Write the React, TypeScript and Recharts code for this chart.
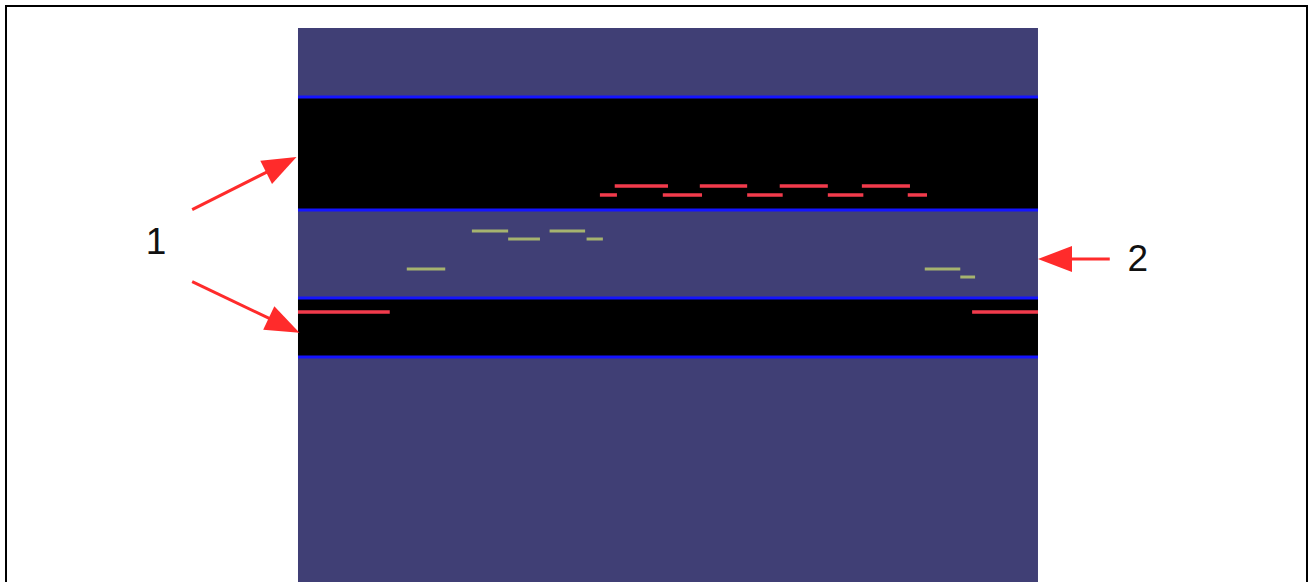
import { ComposedChart, XAxis, YAxis, ReferenceArea, ReferenceLine, ReferenceDot } from "recharts"

// time runs 0..100 across the panel, channel height 0..100 from bottom to top of the panel
const X_DOMAIN = [-40.27, 137.03]
const Y_DOMAIN = [0, 105.05]
const PANEL_X = [0, 100]
const PANEL_Y = [0, 100]

const BLACK_BANDS = [
  { lo: 67.33, hi: 87.36 },
  { lo: 40.79, hi: 51.08 },
]
const BLUE_EDGES = [87.55, 67.15, 51.26, 40.61]

const RED_TRACES = [
  { y: 71.48, from: 42.8, to: 50.0 },
  { y: 71.48, from: 54.3, to: 60.7 },
  { y: 71.48, from: 65.1, to: 71.6 },
  { y: 71.48, from: 76.2, to: 82.7 },
  { y: 69.86, from: 40.8, to: 43.1 },
  { y: 69.86, from: 49.3, to: 54.6 },
  { y: 69.86, from: 60.7, to: 65.5 },
  { y: 69.86, from: 71.6, to: 76.4 },
  { y: 69.86, from: 82.4, to: 85.0 },
  { y: 48.74, from: 0, to: 12.4 },
  { y: 48.74, from: 91.1, to: 100 },
]

const YELLOW_TRACES = [
  { y: 63.36, from: 23.5, to: 28.4 },
  { y: 63.36, from: 34.0, to: 38.8 },
  { y: 61.91, from: 28.4, to: 32.7 },
  { y: 61.91, from: 39.0, to: 41.2 },
  { y: 56.5, from: 14.7, to: 19.9 },
  { y: 56.5, from: 84.7, to: 89.5 },
  { y: 55.05, from: 89.5, to: 91.5 },
]

const LABELS = [
  { text: "1", x: -19.2, y: 61.5 },
  { text: "2", x: 113.5, y: 58.5 },
]

const ARROWS = [
  { x1: -14.3, y1: 67.2, x2: -0.2, y2: 76.7 },
  { x1: -14.3, y1: 54.2, x2: 0.2, y2: 45.0 },
  { x1: 109.7, y1: 58.3, x2: 100.0, y2: 58.3 },
]

const Arrow = (props: any) => {
  const { x1, y1, x2, y2 } = props
  const dx = x2 - x1
  const dy = y2 - y1
  const len = Math.hypot(dx, dy) || 1
  const ux = dx / len
  const uy = dy / len
  const head = 34
  const half = 13
  const bx = x2 - ux * head
  const by = y2 - uy * head
  const pts = `${x2},${y2} ${bx - uy * half},${by + ux * half} ${bx + uy * half},${by - ux * half}`
  return (
    <g>
      <line x1={x1} y1={y1} x2={bx + ux * 4} y2={by + uy * 4} stroke="#ff2b2b" strokeWidth={3} />
      <polygon points={pts} fill="#ff2b2b" />
    </g>
  )
}

export default function App() {
  return (
    <div style={{ position: "absolute", left: 0, top: 0, width: 1312, height: 582, background: "#fff", overflow: "hidden" }}>
      <div
        style={{
          position: "absolute",
          left: 5,
          top: 5,
          width: 1299,
          height: 600,
          borderTop: "2px solid #000",
          borderLeft: "2px solid #000",
          borderRight: "2px solid #000",
        }}
      />
      <div style={{ position: "absolute", left: 0, top: 0 }}>
        <ComposedChart width={1312} height={582} data={[]} margin={{ top: 0, right: 0, bottom: 0, left: 0 }}>
          <XAxis type="number" dataKey="x" domain={X_DOMAIN} allowDataOverflow hide />
          <YAxis type="number" dataKey="y" domain={Y_DOMAIN} allowDataOverflow hide />

          <ReferenceArea x1={PANEL_X[0]} x2={PANEL_X[1]} y1={PANEL_Y[0]} y2={PANEL_Y[1]} fill="#403f75" fillOpacity={1} stroke="none" />
          {BLACK_BANDS.map((b, i) => (
            <ReferenceArea key={"band" + i} x1={PANEL_X[0]} x2={PANEL_X[1]} y1={b.lo} y2={b.hi} fill="#000" fillOpacity={1} stroke="none" />
          ))}
          {BLUE_EDGES.map((y, i) => (
            <ReferenceLine
              key={"edge" + i}
              segment={[{ x: PANEL_X[0], y }, { x: PANEL_X[1], y }]}
              stroke="#1414ff"
              strokeWidth={3}
            />
          ))}
          {YELLOW_TRACES.map((t, i) => (
            <ReferenceLine
              key={"yel" + i}
              segment={[{ x: t.from, y: t.y }, { x: t.to, y: t.y }]}
              stroke="#b9c86e"
              strokeOpacity={0.85}
              strokeWidth={3}
            />
          ))}
          {RED_TRACES.map((t, i) => (
            <ReferenceLine
              key={"red" + i}
              segment={[{ x: t.from, y: t.y }, { x: t.to, y: t.y }]}
              stroke="#f23b4c"
              strokeWidth={3.5}
            />
          ))}
          {ARROWS.map((a, i) => (
            <ReferenceLine
              key={"arrow" + i}
              segment={[{ x: a.x1, y: a.y1 }, { x: a.x2, y: a.y2 }]}
              stroke="#ff2b2b"
              shape={Arrow}
            />
          ))}
          {LABELS.map((l, i) => (
            <ReferenceDot
              key={"lab" + i}
              x={l.x}
              y={l.y}
              r={0}
              stroke="none"
              label={{ value: l.text, position: "center", fill: "#111", fontSize: 37, fontFamily: "Liberation Sans, Arial, sans-serif" }}
            />
          ))}
        </ComposedChart>
      </div>
    </div>
  )
}
